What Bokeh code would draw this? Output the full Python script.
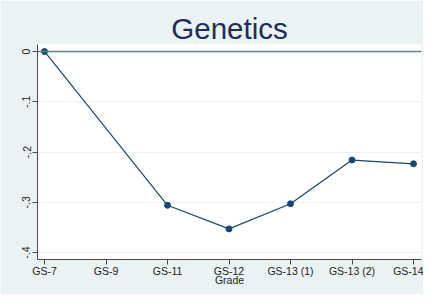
from bokeh.plotting import figure
from bokeh.models import FixedTicker, Range1d, Span, ColumnDataSource
from bokeh.embed import file_html
from bokeh.resources import INLINE

grades = ["GS-7", "GS-9", "GS-11", "GS-12", "GS-13 (1)", "GS-13 (2)", "GS-14"]
grade_pos = [1, 2, 3, 4, 5, 6, 7]
# GS-9 has no estimate
pt_pos = [1, 3, 4, 5, 6, 7]
pt_val = [0.0, -0.306, -0.353, -0.303, -0.216, -0.2235]
y_ticks = [-0.4, -0.3, -0.2, -0.1, 0.0]
y_tick_labels = ["-.4", "-.3", "-.2", "-.1", "0"]

BG = "#EAF2F3"
NAVY = "#1A476F"

p = figure(width=423, height=294, output_backend="svg", toolbar_location=None,
           title="Genetics",
           x_range=Range1d(0.886, 7.13), y_range=Range1d(-0.4139, 0.0139),
           min_border_left=37, min_border_right=2, min_border_top=44, min_border_bottom=35)

p.background_fill_color = "white"
p.border_fill_color = BG
p.outline_line_color = None

p.title.text_font = "Liberation Sans"
p.title.text_font_size = "29.5px"
p.title.text_font_style = "normal"
p.title.text_color = "#1E2D5A"
p.title.align = "center"
p.title.standoff = 0
p.title.offset = 0

src = ColumnDataSource(dict(x=pt_pos, y=pt_val))

zero = Span(location=0, dimension="width", line_color="#5B8585", line_width=1.6)
p.add_layout(zero)

p.line("x", "y", source=src, line_color=NAVY, line_width=1.2)
p.scatter("x", "y", source=src, size=6, fill_color=NAVY, line_color=NAVY)

# x axis
p.xaxis.ticker = FixedTicker(ticks=grade_pos)
p.xaxis.major_label_overrides = {g: l for g, l in zip(grade_pos, grades)}
p.xaxis.axis_label = "Grade"
p.xaxis.axis_label_text_font = "Liberation Sans"
p.xaxis.axis_label_text_font_size = "10.5px"
p.xaxis.axis_label_text_font_style = "normal"
p.xaxis.axis_label_standoff = -6
p.xaxis.major_label_text_font = "Liberation Sans"
p.xaxis.major_label_text_font_size = "10.5px"
p.xaxis.major_label_standoff = 0

# y axis
p.yaxis.ticker = FixedTicker(ticks=y_ticks)
p.yaxis.major_label_overrides = {t: l for t, l in zip(y_ticks, y_tick_labels)}
p.yaxis.major_label_orientation = "vertical"
p.yaxis.major_label_text_font = "Liberation Sans"
p.yaxis.major_label_text_font_size = "10.5px"
p.yaxis.major_label_standoff = 2

for ax in (p.xaxis, p.yaxis):
    ax.axis_line_color = "#4a4a4a"
    ax.axis_line_width = 1
    ax.major_tick_line_color = "#4a4a4a"
    ax.major_tick_out = 5
    ax.major_tick_in = 0
    ax.minor_tick_line_color = None
    ax.major_label_text_color = "#222222"
    ax.axis_label_text_color = "#222222"

p.xgrid.grid_line_color = None
p.ygrid.grid_line_color = BG
p.ygrid.grid_line_width = 1
p.ygrid.ticker = FixedTicker(ticks=y_ticks)

open("out.html", "w").write(file_html(p, INLINE))
